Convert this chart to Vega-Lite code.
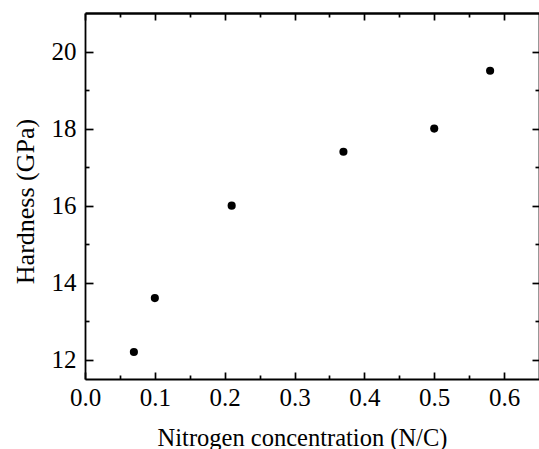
{
  "$schema": "https://vega.github.io/schema/vega-lite/v6.json",
  "width": 454,
  "height": 366,
  "autosize": "none",
  "padding": {"left": 85, "top": 13, "right": 0, "bottom": 70},
  "background": "white",
  "config": {
    "view": {"stroke": null},
    "font": "Liberation Serif",
    "axis": {
      "domainColor": "black",
      "tickColor": "black",
      "labelColor": "black",
      "titleColor": "black",
      "grid": false,
      "domainWidth": 1.8,
      "tickWidth": 1.7,
      "labelFont": "Liberation Serif",
      "titleFont": "Liberation Serif",
      "labelFontSize": 25,
      "titleFontSize": 24.5,
      "titleFontWeight": "normal",
      "labelFlush": false,
      "labelOverlap": false
    }
  },
  "data": {
    "values": [
      {"x": 0.07, "y": 12.2},
      {"x": 0.10, "y": 13.6},
      {"x": 0.21, "y": 16.0},
      {"x": 0.37, "y": 17.4},
      {"x": 0.50, "y": 18.0},
      {"x": 0.58, "y": 19.5}
    ]
  },
  "resolve": {"axis": {"x": "independent", "y": "independent"}},
  "layer": [
    {
      "mark": {"type": "point", "filled": true, "color": "black", "size": 66, "opacity": 1},
      "encoding": {
        "x": {
          "field": "x", "type": "quantitative",
          "scale": {"domain": [0, 0.65], "nice": false, "zero": false},
          "axis": {
            "orient": "bottom",
            "values": [0, 0.1, 0.2, 0.3, 0.4, 0.5, 0.6],
            "format": ".1f",
            "tickSize": -7,
            "labelPadding": 13,
            "title": "Nitrogen concentration (N/C)",
            "titleFontSize": 24.5,
            "titleBaseline": "alphabetic",
            "titleAlign": "center",
            "titleX": 217,
            "titleY": 66
          }
        },
        "y": {
          "field": "y", "type": "quantitative",
          "scale": {"domain": [11.5, 21], "nice": false, "zero": false},
          "axis": {
            "orient": "left",
            "values": [12, 14, 16, 18, 20],
            "tickSize": -8,
            "labelPadding": 17,
            "title": "Hardness (GPa)",
            "titleFontSize": 26,
            "titleAngle": -90,
            "titleBaseline": "alphabetic",
            "titleAlign": "center",
            "titleX": -52,
            "titleY": 188
          }
        }
      }
    },
    {
      "mark": {"type": "point", "opacity": 0},
      "encoding": {
        "x": {
          "field": "x", "type": "quantitative",
          "scale": {"domain": [0, 0.65], "nice": false, "zero": false},
          "axis": {"orient": "top", "values": [0, 0.1, 0.2, 0.3, 0.4, 0.5, 0.6], "tickSize": -7, "labels": false, "title": null, "domainWidth": 2.4}
        },
        "y": {
          "field": "y", "type": "quantitative",
          "scale": {"domain": [11.5, 21], "nice": false, "zero": false},
          "axis": {"orient": "right", "values": [12, 14, 16, 18, 20], "tickSize": -7, "labels": false, "title": null}
        }
      }
    },
    {
      "mark": {"type": "point", "opacity": 0},
      "encoding": {
        "x": {
          "field": "x", "type": "quantitative",
          "scale": {"domain": [0, 0.65], "nice": false, "zero": false},
          "axis": {"orient": "bottom", "values": [0.05, 0.15, 0.25, 0.35, 0.45, 0.55], "tickSize": -4, "labels": false, "domain": false, "title": null}
        },
        "y": {
          "field": "y", "type": "quantitative",
          "scale": {"domain": [11.5, 21], "nice": false, "zero": false},
          "axis": {"orient": "left", "values": [13, 15, 17, 19], "tickSize": -4, "labels": false, "domain": false, "title": null}
        }
      }
    },
    {
      "mark": {"type": "point", "opacity": 0},
      "encoding": {
        "x": {
          "field": "x", "type": "quantitative",
          "scale": {"domain": [0, 0.65], "nice": false, "zero": false},
          "axis": {"orient": "top", "values": [0.05, 0.15, 0.25, 0.35, 0.45, 0.55], "tickSize": -4, "labels": false, "domain": false, "title": null}
        },
        "y": {
          "field": "y", "type": "quantitative",
          "scale": {"domain": [11.5, 21], "nice": false, "zero": false},
          "axis": {"orient": "right", "values": [13, 15, 17, 19], "tickSize": -4, "labels": false, "domain": false, "title": null}
        }
      }
    }
  ]
}
